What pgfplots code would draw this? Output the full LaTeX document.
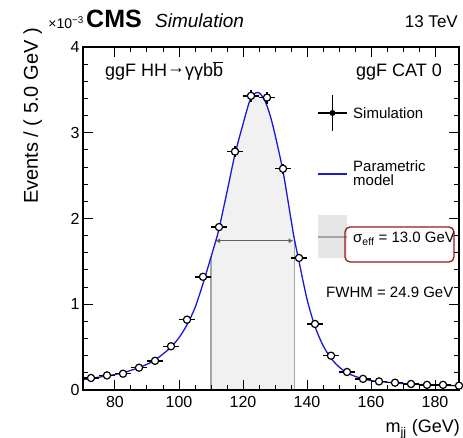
\documentclass[border=0pt]{standalone}
\usepackage{pgfplots}
\pgfplotsset{compat=1.18}
\usepackage{fontspec}
\setmainfont{Liberation Sans}
\usetikzlibrary{arrows.meta}
\definecolor{rootblue}{RGB}{25,25,215}
\definecolor{shade}{RGB}{241,241,241}
\definecolor{vline}{RGB}{165,165,165}
\definecolor{arrowgray}{RGB}{95,95,95}
\definecolor{boxred}{RGB}{155,25,25}

\pgfplotstableread{
x     y     ex   ey
72.5  0.14  2.5  0.02
77.5  0.17  2.5  0.02
82.5  0.19  2.5  0.02
87.5  0.26  2.5  0.025
92.5  0.34  2.5  0.025
97.5  0.51  2.5  0.03
102.5 0.82  2.5  0.035
107.5 1.32  2.5  0.04
112.5 1.90  2.5  0.05
117.5 2.78  2.5  0.06
122.5 3.43  2.5  0.07
127.5 3.41  2.5  0.07
132.5 2.58  2.5  0.06
137.5 1.54  2.5  0.045
142.5 0.77  2.5  0.035
147.5 0.40  2.5  0.03
152.5 0.21  2.5  0.02
157.5 0.13  2.5  0.02
162.5 0.10  2.5  0.02
167.5 0.085 2.5  0.02
172.5 0.07  2.5  0.02
177.5 0.06  2.5  0.02
182.5 0.06  2.5  0.02
187.5 0.05  2.5  0.02
}\simdata

\pgfplotstableread{
x     y
70    0.12
72.5  0.135
75    0.15
77.5  0.165
80    0.18
82.5  0.20
85    0.23
87.5  0.26
90    0.30
92.5  0.35
95    0.42
97.5  0.50
100   0.61
102.5 0.76
105   0.96
107.5 1.24
110   1.55
111.5 1.74
112.5 1.88
115   2.31
117.5 2.75
120   3.10
122   3.36
123.5 3.45
124.5 3.47
125.5 3.45
127   3.36
128.5 3.20
130   2.98
132.5 2.55
135   1.99
136   1.77
137.5 1.50
140   1.06
142.5 0.74
145   0.52
147.5 0.37
150   0.27
152.5 0.20
155   0.16
157.5 0.13
160   0.11
165   0.09
170   0.075
175   0.065
180   0.058
185   0.052
190   0.048
}\modeldata

\pgfplotstableread{
x     y
110   1.55
111.5 1.74
112.5 1.88
115   2.31
117.5 2.75
120   3.10
122   3.36
123.5 3.45
124.5 3.47
125.5 3.45
127   3.36
128.5 3.20
130   2.98
132.5 2.55
135   1.99
136   1.77
}\shadedata

\begin{document}
\begin{tikzpicture}
\path[use as bounding box] (-83pt,-48pt) rectangle (380pt,390pt);
\begin{axis}[
  at={(0,0)}, anchor=south west,
  scale only axis, width=376pt, height=343pt,
  xmin=70, xmax=187.5, ymin=0, ymax=4,
  xtick={80,100,...,180}, minor x tick num=3,
  ytick={0,1,2,3,4}, minor y tick num=4,
  tick align=inside, xtick pos=both, ytick pos=both,
  major tick length=10pt, minor tick length=5pt,
  axis line style={line width=1.2pt},
  every tick/.style={black, line width=1pt},
  ticklabel style={font=\fontsize{16}{16}\selectfont},
  xticklabel style={yshift=-3pt},
  /pgf/number format/assume math mode=true,
  axis on top,
]
\addplot[fill=shade, draw=none, smooth] table[x=x,y=y] {\shadedata} \closedcycle;
\addplot[vline, line width=1.3pt] coordinates {(110,0) (110,1.55)};
\addplot[vline, line width=1.3pt] coordinates {(136,0) (136,1.77)};
\addplot[arrowgray, line width=1.3pt, {Latex[length=5pt,width=5pt]}-{Latex[length=5pt,width=5pt]}] coordinates {(111.3,1.74) (135.8,1.74)};
\addplot[rootblue, line width=1.3pt, smooth, no marks] table[x=x,y=y] {\modeldata};
\addplot[only marks, black, mark=*, mark size=3.6pt, line width=1.2pt,
  mark options={fill=white, draw=black},
  error bars/.cd, x dir=both, x explicit, y dir=both, y explicit,
  error mark=none, error bar style={line width=1.4pt, black}]
  table[x=x, y=y, x error=ex, y error=ey] {\simdata};
\end{axis}

% header
\node[anchor=base east, font=\fontsize{14}{14}\selectfont, inner sep=0pt] at (1pt,361pt) {×10\textsuperscript{−3}};
\node[anchor=base west, font=\fontsize{25}{25}\selectfont\bfseries, inner sep=0pt] at (3pt,362pt) {CMS};
\node[anchor=base west, font=\fontsize{19}{19}\selectfont\itshape, inner sep=0pt] at (72pt,362pt) {Simulation};
\node[anchor=base east, font=\fontsize{17}{17}\selectfont, inner sep=0pt] at (375pt,362pt) {13 TeV};

% labels in frame
\node[anchor=base west, font=\fontsize{18}{18}\selectfont, inner sep=0pt] at (22pt,313pt) {ggF HH\raisebox{0.22em}{→}γγb$\overline{\mbox{b}}$};
\node[anchor=base east, font=\fontsize{18}{18}\selectfont, inner sep=0pt] at (359pt,313pt) {ggF CAT 0};

% axis titles
\node[rotate=90, anchor=base east, font=\fontsize{20}{20}\selectfont, inner sep=0pt] at (-45pt,362pt) {Events / ( 5.0 GeV )};
\node[anchor=base east, font=\fontsize{18}{18}\selectfont, inner sep=0pt] at (377pt,-43pt) {m\textsubscript{jj} (GeV)};

% legend
\draw[black, line width=1.3pt] (235pt,277pt) -- (264pt,277pt);
\draw[black, line width=1.3pt] (249.5pt,259pt) -- (249.5pt,295pt);
\fill[black] (249.5pt,277pt) circle (3pt);
\node[anchor=base west, font=\fontsize{15}{15}\selectfont, inner sep=0pt] at (270pt,271.5pt) {Simulation};

\draw[rootblue, line width=1.3pt] (235pt,216pt) -- (264pt,216pt);
\node[anchor=base west, font=\fontsize{15}{15}\selectfont, inner sep=0pt] at (270pt,218.5pt) {Parametric};
\node[anchor=base west, font=\fontsize{15}{15}\selectfont, inner sep=0pt] at (270pt,204pt) {model};

\fill[shade!90!gray] (235pt,132pt) rectangle (264pt,175pt);
\draw[vline, line width=1.3pt] (235pt,153pt) -- (264pt,153pt);
\node[anchor=base west, font=\fontsize{15}{15}\selectfont, inner sep=0pt] at (270pt,147pt) {σ\textsubscript{eff} = 13.0 GeV};
\draw[boxred, line width=1.3pt, rounded corners=5pt] (262pt,128pt) rectangle (371pt,163pt);

\node[anchor=base west, font=\fontsize{15}{15}\selectfont, inner sep=0pt] at (243pt,92.5pt) {FWHM = 24.9 GeV};
\end{tikzpicture}
\end{document}
